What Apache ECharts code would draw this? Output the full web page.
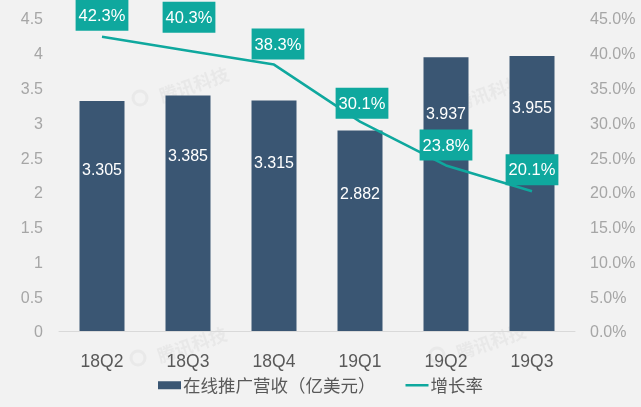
<!DOCTYPE html>
<html>
<head>
<meta charset="utf-8">
<style>
html, body { margin: 0; padding: 0; background: #f2f2f2; }
#chart { width: 641px; height: 407px; }
</style>
<script src="https://cdn.jsdelivr.net/npm/echarts@6/dist/echarts.min.js"></script>
</head>
<body>
<div id="chart"></div>
<script>
const quarters = ["18Q2", "18Q3", "18Q4", "19Q1", "19Q2", "19Q3"];
const revenue = [3.305, 3.385, 3.315, 2.882, 3.937, 3.955];
const growth = [42.3, 40.3, 38.3, 30.1, 23.8, 20.1];
const revenueTicks = ["0", "0.5", "1", "1.5", "2", "2.5", "3", "3.5", "4", "4.5"];

// label nudges, the labels in the reference are hand placed
const barLabelShift = [-45, -57, -52, -36, -79, -85];
const lineLabelShift = [[0, 0], [1, -12], [4, 1], [2, 3], [0, 1], [0, 0]];

const font = "'Liberation Sans', Arial, sans-serif";
const cjkFont = "'Noto Sans CJK SC', sans-serif";

// tick text sits a little below the tick in the reference
const tickRich = {
    t: { color: "#a6a6a6", fontSize: 16, fontFamily: font, padding: [4, 0, 0, 0] }
};

const chart = echarts.init(document.getElementById("chart"));

function watermark(x, y) {
    return [
        {
            type: "circle",
            silent: true,
            shape: { cx: x - 17, cy: y + 10, r: 7 },
            style: { fill: "none", stroke: "rgba(170,170,170,0.12)", lineWidth: 3 }
        },
        {
            type: "text",
            x: x,
            y: y,
            rotation: 0.33,
            silent: true,
            style: { text: "腾讯科技", fill: "rgba(170,170,170,0.13)", font: "bold 18px " + cjkFont }
        }
    ];
}

chart.setOption({
    backgroundColor: "#f2f2f2",
    animation: false,
    grid: { left: 59, right: 66, top: 18, bottom: 76 },
    legend: {
        bottom: 8,
        left: "center",
        itemGap: 30,
        itemWidth: 23,
        itemHeight: 8,
        textStyle: { color: "#595959", fontSize: 17.5, fontFamily: cjkFont, padding: [0, 0, 0, -3] },
        data: [
            { name: "在线推广营收（亿美元）", icon: "rect" },
            { name: "增长率", icon: "path://M0 0h46v5H0z" }
        ]
    },
    xAxis: {
        type: "category",
        data: quarters,
        axisTick: { show: false },
        axisLine: { lineStyle: { color: "#d9d9d9" } },
        axisLabel: { color: "#595959", fontSize: 17.5, fontFamily: font, margin: 22 }
    },
    yAxis: [
        {
            type: "value",
            min: 0,
            max: 4.5,
            interval: 0.5,
            splitLine: { show: false },
            axisLabel: {
                margin: 16,
                rich: tickRich,
                formatter: (v) => "{t|" + revenueTicks[Math.round(v * 2)] + "}"
            }
        },
        {
            type: "value",
            min: 0,
            max: 45,
            interval: 5,
            splitLine: { show: false },
            axisLabel: {
                margin: 15,
                rich: tickRich,
                formatter: (v) => "{t|" + v.toFixed(1) + "%}"
            }
        }
    ],
    series: [
        {
            name: "在线推广营收（亿美元）",
            type: "bar",
            barWidth: 45,
            itemStyle: { color: "#3a5673" },
            data: revenue.map((v, i) => ({
                value: v,
                label: { offset: [0, barLabelShift[i]] }
            })),
            label: {
                show: true,
                position: "inside",
                color: "#fff",
                fontSize: 16,
                fontFamily: font,
                formatter: (p) => p.value.toFixed(3)
            }
        },
        {
            name: "增长率",
            type: "line",
            yAxisIndex: 1,
            symbol: "circle",
            symbolSize: 0,
            showSymbol: true,
            z: 5,
            lineStyle: { color: "#0fa89e", width: 2.5 },
            itemStyle: { color: "#0fa89e" },
            data: growth.map((v, i) => ({
                value: v,
                label: { offset: lineLabelShift[i] }
            })),
            label: {
                show: true,
                position: "top",
                distance: 6,
                color: "#fff",
                backgroundColor: "#0fa89e",
                padding: [8, 3, 6, 3],
                fontSize: 16.5,
                fontFamily: font,
                formatter: (p) => p.value.toFixed(1) + "%"
            }
        }
    ],
    graphic: [
        ...watermark(157, 88),
        ...watermark(155, 348),
        ...watermark(454, 345),
        ...watermark(452, 96)
    ]
});
</script>
</body>
</html>
